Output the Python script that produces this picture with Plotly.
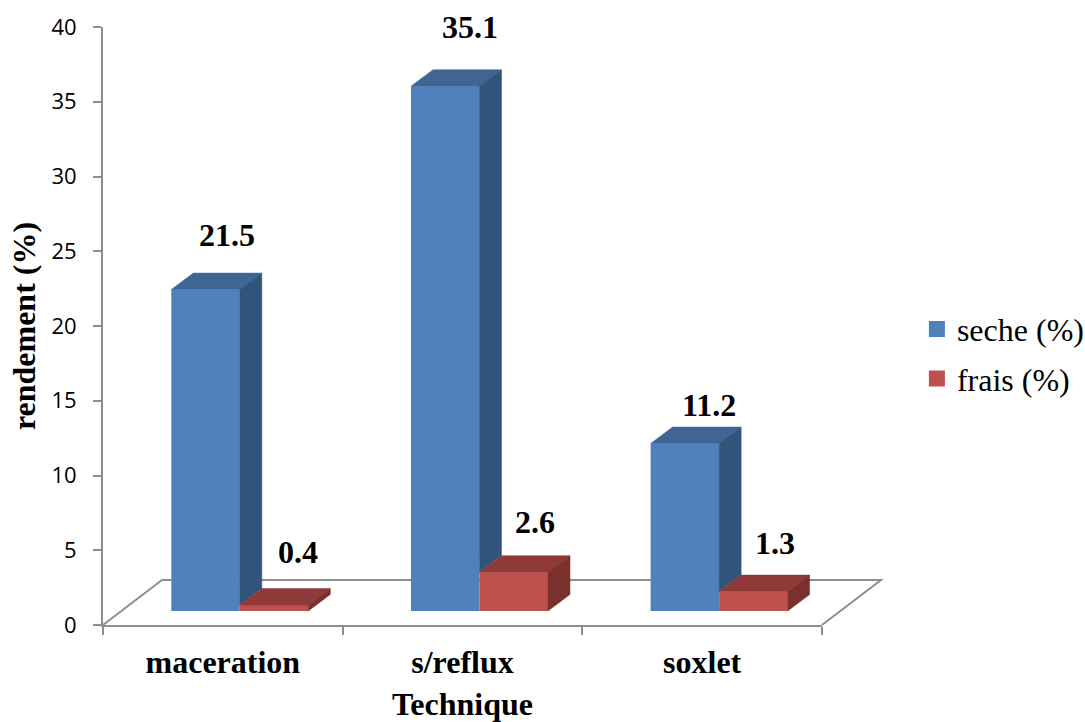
import plotly.graph_objects as go

categories = ["maceration", "s/reflux", "soxlet"]
seche = [21.5, 35.1, 11.2]
frais = [0.4, 2.6, 1.3]
series_names = ["seche (%)", "frais (%)"]
y_ticks = [0, 5, 10, 15, 20, 25, 30, 35, 40]

SERIF = "Liberation Serif"
SANS = "Open Sans"
W, H = 1085, 722
L, T, R, B = 103, 27, 263, 97
PX_X = (W - L - R) / 3
PX_Y = (H - T - B) / 40

BASE = 14 / PX_Y
BAR_W = 68.5 / PX_X
LEFT = -0.215
DX, DY = 22 / PX_X, 16.5 / PX_Y
FLOOR_DX, FLOOR_DY = 59 / PX_X, 45 / PX_Y

C_S = ("#4f81bd", "#3f6594", "#32547b")
C_F = ("#c0504d", "#8f3a38", "#7c302e")
GREY = "#8e8e8e"

xs = list(range(len(categories)))
fig = go.Figure()


def poly(px, py, color):
    fig.add_trace(go.Scatter(x=px, y=py, mode="lines", fill="toself", fillcolor=color,
                             line=dict(color=color, width=0.5), showlegend=False,
                             hoverinfo="skip", cliponaxis=False))


fig.add_trace(go.Bar(x=xs, y=seche, base=[BASE] * 3, width=BAR_W, offset=LEFT,
                     marker=dict(color=C_S[0], line_width=0), showlegend=False, name=series_names[0]))
fig.add_trace(go.Bar(x=xs, y=frais, base=[BASE] * 3, width=BAR_W, offset=LEFT + BAR_W,
                     marker=dict(color=C_F[0], line_width=0), showlegend=False, name=series_names[1]))

for x, s, f in zip(xs, seche, frais):
    a = x + LEFT
    b = a + BAR_W
    c = b + BAR_W
    ts, tf = BASE + s, BASE + f
    poly([a, b, b + DX, a + DX, a], [ts, ts, ts + DY, ts + DY, ts], C_S[1])
    poly([b, b + DX, b + DX, b, b], [ts, ts + DY, tf + DY, tf, ts], C_S[2])
    poly([b, c, c + DX, b + DX, b], [tf, tf, tf + DY, tf + DY, tf], C_F[1])
    poly([c, c + DX, c + DX, c, c], [tf, tf + DY, BASE + DY, BASE, tf], C_F[2])

for name, col in zip(series_names, (C_S[0], C_F[0])):
    fig.add_trace(go.Scatter(x=[None], y=[None], mode="markers", name=name, legendgroup=name,
                             marker=dict(symbol="square", size=16, color=col)))

seche_shift = [(-1, 38), (3, 43), (2, 22)]
frais_shift = [(2, 37), (-1, 34), (0, 32)]
anns = []
for x, s, f, ss, fs in zip(xs, seche, frais, seche_shift, frais_shift):
    for val, xoff, (sx, sy) in ((s, LEFT + BAR_W / 2 + DX, ss), (f, LEFT + 1.5 * BAR_W + DX, fs)):
        anns.append(dict(x=x + xoff, y=BASE + val + DY, text=f"<b>{val}</b>", showarrow=False,
                         xshift=sx, yshift=sy,
                         font=dict(family=SERIF, size=32, color="black"),
                         xanchor="center", yanchor="middle"))

fx = lambda v: (v + 0.5) / 3
fy = lambda v: v / 40
fig.update_layout(
    width=W, height=H, autosize=False, barmode="overlay",
    paper_bgcolor="white", plot_bgcolor="white",
    margin=dict(l=L, r=R, t=T, b=B, pad=0, autoexpand=False),
    annotations=anns,
    shapes=[dict(type="path", layer="below", xref="paper", yref="paper",
                 path=f"M {fx(-0.5)} {fy(0)} L {fx(-0.5 + FLOOR_DX)} {fy(FLOOR_DY)} "
                      f"L {fx(2.5 + FLOOR_DX)} {fy(FLOOR_DY)} L {fx(2.5)} {fy(0)}",
                 line=dict(color=GREY, width=2))],
    legend=dict(x=1.132, y=0.453, xanchor="left", yanchor="middle", tracegroupgap=5,
                font=dict(family=SERIF, size=32, color="black"), bgcolor="rgba(0,0,0,0)"),
    xaxis=dict(range=[-0.5, 2.5], tickmode="array", tickvals=xs, ticktext=[f"<b>{c}</b>" for c in categories],
               ticks="outside", ticklen=8, tickcolor="rgba(0,0,0,0)", showgrid=False, zeroline=False,
               showline=True, linecolor=GREY, linewidth=2,
               tickfont=dict(family=SERIF, size=32, color="black"),
               minor=dict(tickmode="array", tickvals=[-0.5, 0.5, 1.5, 2.5], ticks="outside",
                          ticklen=8, tickwidth=2, tickcolor=GREY, showgrid=False),
               title=dict(text="<b>Technique</b>", standoff=18,
                          font=dict(family=SERIF, size=32, color="black"))),
    yaxis=dict(range=[0, 40], tickmode="array", tickvals=y_ticks, ticks="outside", ticklen=8, tickwidth=2,
               tickcolor=GREY, showgrid=False, zeroline=False, showline=True, linecolor=GREY, linewidth=2,
               ticklabelstandoff=12,
               tickfont=dict(family=SANS, size=22, color="black"),
               title=dict(text="<b>rendement (%)</b>", standoff=6,
                          font=dict(family=SERIF, size=32, color="black"))),
)
fig.write_html("out.html", post_script="document.body.style.margin='0';",
               config=dict(displayModeBar=False))
